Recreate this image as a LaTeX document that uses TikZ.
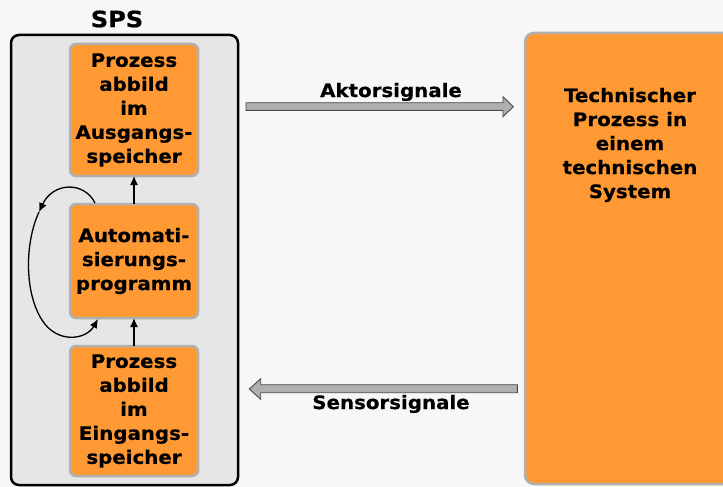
\documentclass[tikz,border=0pt]{standalone}
\usepackage{fontspec}
\setmainfont{DejaVu Sans}[BoldFeatures={FakeStretch=1.07,FakeBold=0.5}]
\usetikzlibrary{arrows.meta,calc}
\definecolor{bgcol}{HTML}{F7F7F7}
\definecolor{spscol}{HTML}{E6E6E6}
\definecolor{orangecol}{HTML}{FF9933}
\definecolor{rimcol}{HTML}{B0B0B0}
\definecolor{sigfill}{HTML}{AFAFAF}
\definecolor{sigrim}{HTML}{4A4A4A}
\tikzset{
  membox/.style={draw=rimcol,line width=2.5pt,fill=orangecol,rounded corners=6pt},
  boxtext/.style={font=\fontsize{18.5}{24}\selectfont\bfseries,align=center,inner sep=0pt},
  flow/.style={-{Latex[length=9pt,width=8pt]},line width=1.3pt},
  sigarrow/.style={fill=sigfill,draw=sigrim,line width=0.9pt,line join=miter},
  siglabel/.style={font=\fontsize{18.5}{22}\selectfont\bfseries,inner sep=0pt}
}
\begin{document}
\begin{tikzpicture}[x=1pt,y=-1pt]
\useasboundingbox (0,0) rectangle (723,487);
\clip (0,0) rectangle (723,487);
\fill[bgcol] (0,0) rectangle (723,487);

% PLC frame
\node[font=\fontsize{22.5}{26}\selectfont\bfseries,inner sep=0pt] (spslabel) at (117,19) {SPS};
\draw[fill=spscol,line width=2.5pt,rounded corners=8pt] (11,35) rectangle (238,485);

% process image and program blocks
\draw[membox] (70,44) rectangle (198,176);
\node[boxtext] (outimg) at (134,110) {Prozess\\abbild\\im\\Ausgangs-\\speicher};
\coordinate (outS) at (134,176);

\draw[membox] (70,204) rectangle (198,318);
\node[boxtext] (prog) at (134,261) {Automati-\\sierungs-\\programm};
\coordinate (progN) at (134,204);
\coordinate (progS) at (134,318);
\coordinate (progNW) at (95,203);
\coordinate (progSW) at (98,319);

\draw[membox] (70,346) rectangle (198,476);
\node[boxtext] (inimg) at (134,411) {Prozess\\abbild\\im\\Eingangs-\\speicher};
\coordinate (inN) at (134,346);

\draw[flow] (progN) -- (outS);
\draw[flow] (inN) -- (progS);

% cyclic execution loop
\coordinate (loopmid) at (39,212);
\draw[flow] (progNW) .. controls (84,181) and (53,182) .. (loopmid);
\draw[flow] (loopmid) .. controls (25,242) and (24,292) .. (42,320)
  .. controls (57,344) and (86,340) .. (progSW);

% technical process
\draw[membox,rounded corners=9pt] (525,33) rectangle (760,484);
\node[boxtext] (proc) at (630,145) {Technischer\\Prozess in\\einem\\technischen\\System};

% signal arrows
\draw[sigarrow] (246,102.7) -- (503,102.7) -- (503,96.7) -- (513.3,106.7)
  -- (503,116.7) -- (503,110.3) -- (246,110.3) -- cycle;
\node[siglabel] (akt) at (391,92) {Aktorsignale};

\draw[sigarrow] (517.3,384.7) -- (260.7,384.7) -- (260.7,378.7) -- (249.3,389)
  -- (260.7,399.3) -- (260.7,392.7) -- (517.3,392.7) -- cycle;
\node[siglabel] (sen) at (391,404) {Sensorsignale};
\end{tikzpicture}
\end{document}
